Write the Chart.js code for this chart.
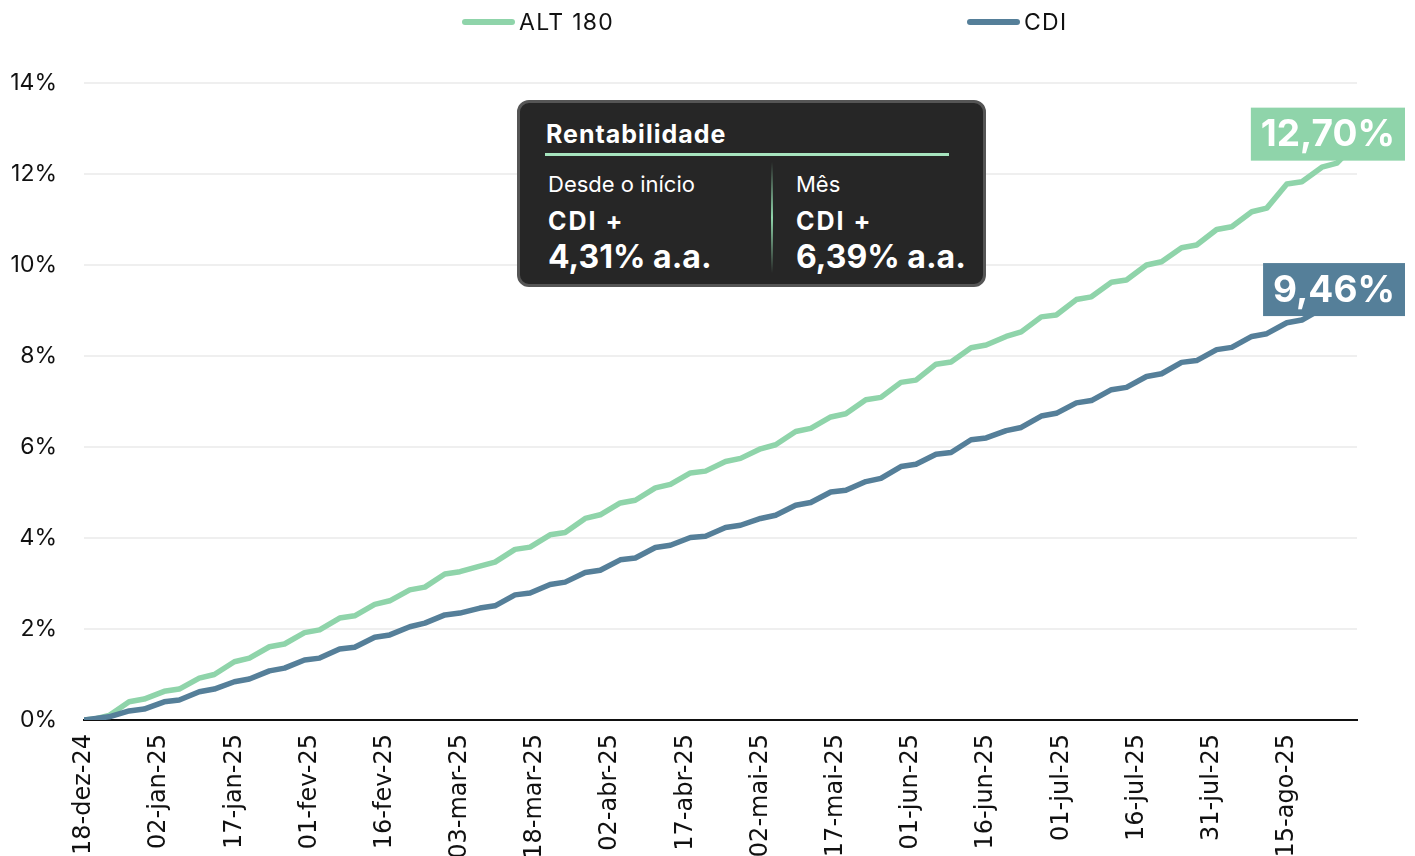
<!DOCTYPE html>
<html>
<head>
<meta charset="utf-8">
<script src="https://cdn.jsdelivr.net/npm/chart.js@4.4.1/dist/chart.umd.min.js"></script>
<style>
  html, body { margin: 0; padding: 0; background: #ffffff; overflow: hidden; }
  #wrap { position: relative; width: 1415px; height: 856px; }
  canvas { display: block; }
  #info { position: absolute; left: 517px; top: 100px; width: 469px; height: 187px; box-sizing: border-box;
          border: 3px solid #555555; border-radius: 12px; background: #262626; color: #ffffff;
          font-family: Inter, "Noto Sans", sans-serif; }
  #info .t { position: absolute; white-space: nowrap; }
  #info .title { left: 26px; top: 19px; font-size: 25px; line-height: 25px; font-weight: 700; letter-spacing: 1px; }
  #info .rule { position: absolute; left: 25px; top: 50px; width: 404px; height: 3px; background: #a6e4be; }
  #info .divider { position: absolute; left: 251px; top: 59px; width: 2px; height: 111px;
                   background: linear-gradient(to bottom, rgba(143,212,170,0), #8fd4aa 50%, rgba(143,212,170,0)); }
  #info .sub { top: 70px; font-size: 22px; line-height: 22px; font-weight: 400; }
  #info .mid { top: 106px; font-size: 25px; line-height: 25px; font-weight: 700; letter-spacing: 2px; }
  #info .big { top: 138px; font-size: 32px; line-height: 32px; font-weight: 700; }
  #info .c1 { left: 28px; }
  #info .c2 { left: 276px; }
</style>
</head>
<body>
<div id="wrap">
  <canvas id="c" width="1415" height="856"></canvas>
  <div id="info">
    <div class="t title">Rentabilidade</div>
    <div class="rule"></div>
    <div class="divider"></div>
    <div class="t sub c1">Desde o início</div>
    <div class="t mid c1">CDI +</div>
    <div class="t big c1">4,31% a.a.</div>
    <div class="t sub c2">Mês</div>
    <div class="t mid c2">CDI +</div>
    <div class="t big c2">6,39% a.a.</div>
  </div>
</div>
<script>
// ---- Data (day offsets from 18-dez-24; values in % accumulated) ----
const tickDays = [0, 15, 30, 45, 60, 75, 90, 105, 120, 135, 150, 165, 180, 195, 210, 225, 240];
const tickLabels = ['18-dez-24', '02-jan-25', '17-jan-25', '01-fev-25', '16-fev-25', '03-mar-25', '18-mar-25',
  '02-abr-25', '17-abr-25', '02-mai-25', '17-mai-25', '01-jun-25', '16-jun-25', '01-jul-25', '16-jul-25',
  '31-jul-25', '15-ago-25'];
const lastDay = 254;

const obsDays = [0, 2, 5, 9, 12, 16, 19, 23, 26, 30, 33, 37, 40, 44, 47, 51, 54, 58, 61, 65, 68, 72, 75,
  79, 82, 86, 89, 93, 96, 100, 103, 107, 110, 114, 117, 121, 124, 128, 131, 135, 138, 142, 145, 149, 152,
  156, 159, 163, 166, 170, 173, 177, 180, 184, 187, 191, 194, 198, 201, 205, 208, 212, 215, 219, 222,
  226, 229, 233, 236, 240, 243, 247, 250, 254];

const alt180 = [0, 0.02, 0.10, 0.40, 0.46, 0.63, 0.68, 0.92, 1.00, 1.28, 1.36, 1.61, 1.67, 1.92, 1.98,
  2.24, 2.29, 2.54, 2.62, 2.86, 2.92, 3.21, 3.26, 3.38, 3.47, 3.75, 3.80, 4.07, 4.12, 4.43, 4.51,
  4.77, 4.83, 5.10, 5.18, 5.43, 5.47, 5.68, 5.75, 5.96, 6.05, 6.34, 6.41, 6.66, 6.73, 7.04, 7.09,
  7.42, 7.47, 7.82, 7.87, 8.18, 8.24, 8.43, 8.53, 8.86, 8.90, 9.24, 9.30, 9.62, 9.67, 10.00, 10.07,
  10.38, 10.44, 10.78, 10.84, 11.17, 11.25, 11.78, 11.83, 12.15, 12.24, 12.70];

const cdi = [0, 0.03, 0.07, 0.20, 0.24, 0.40, 0.44, 0.62, 0.68, 0.84, 0.90, 1.08, 1.14, 1.32, 1.36,
  1.56, 1.60, 1.82, 1.87, 2.05, 2.13, 2.31, 2.35, 2.46, 2.51, 2.75, 2.79, 2.98, 3.03, 3.24, 3.29,
  3.52, 3.56, 3.79, 3.84, 4.01, 4.04, 4.23, 4.28, 4.43, 4.50, 4.72, 4.78, 5.01, 5.05, 5.24, 5.31,
  5.57, 5.62, 5.84, 5.88, 6.16, 6.20, 6.36, 6.43, 6.68, 6.74, 6.97, 7.02, 7.26, 7.31, 7.55, 7.61,
  7.86, 7.90, 8.14, 8.19, 8.43, 8.49, 8.73, 8.79, 9.04, 9.08, 9.46];

const yTicks = [0, 2, 4, 6, 8, 10, 12, 14];
const seriesNames = ['ALT 180', 'CDI'];
const seriesColors = ['#8fd4aa', '#557f99'];

// ---- Chart ----
Chart.defaults.font.family = 'Inter, "Noto Sans", sans-serif';
Chart.defaults.color = '#111111';

const fmtPct = v => v.toFixed(2).replace('.', ',') + '%';

const legendPlugin = {
  id: 'customLegend',
  afterDraw(chart) {
    const ctx = chart.ctx;
    const items = [{ x: 462 }, { x: 967 }];
    ctx.save();
    chart.data.datasets.slice().sort((a, b) => a.legendIndex - b.legendIndex).forEach((ds, i) => {
      const x0 = items[i].x, y = 22;
      ctx.strokeStyle = ds.borderColor;
      ctx.lineWidth = 6;
      ctx.lineCap = 'round';
      ctx.beginPath();
      ctx.moveTo(x0 + 3, y);
      ctx.lineTo(x0 + 50, y);
      ctx.stroke();
      ctx.fillStyle = '#111111';
      ctx.font = '400 23px Inter, "Noto Sans", sans-serif';
      if ('letterSpacing' in ctx) ctx.letterSpacing = '1.3px';
      ctx.textBaseline = 'middle';
      ctx.textAlign = 'left';
      ctx.fillText(ds.label, x0 + 57, y + 1);
      if ('letterSpacing' in ctx) ctx.letterSpacing = '0px';
    });
    ctx.restore();
  }
};

const endLabelPlugin = {
  id: 'endLabels',
  afterDatasetsDraw(chart) {
    const ctx = chart.ctx;
    const xs = chart.scales.x, ys = chart.scales.y;
    ctx.save();
    chart.data.datasets.forEach(ds => {
      const last = ds.data[ds.data.length - 1];
      const px = xs.getPixelForValue(last.x);
      const py = ys.getPixelForValue(last.y) + (ds.labelShift || 0);
      const txt = fmtPct(last.y);
      ctx.font = '700 37px Inter, "Noto Sans", sans-serif';
      const w = ctx.measureText(txt).width + 20;
      const h = 53;
      const right = px + 48;
      ctx.fillStyle = ds.borderColor;
      ctx.fillRect(right - w, py - h / 2, w, h);
      ctx.fillStyle = '#ffffff';
      ctx.textAlign = 'center';
      ctx.textBaseline = 'middle';
      ctx.fillText(txt, right - w / 2, py + 1);
    });
    ctx.restore();
  }
};

new Chart(document.getElementById('c'), {
  type: 'line',
  data: {
    datasets: [
      {
        label: seriesNames[1], legendIndex: 1, labelShift: 0,
        data: obsDays.map((d, i) => ({ x: d, y: cdi[i] })),
        borderColor: seriesColors[1], backgroundColor: seriesColors[1],
        borderWidth: 5.5, pointRadius: 0, tension: 0, borderJoinStyle: 'round', borderCapStyle: 'round'
      },
      {
        label: seriesNames[0], legendIndex: 0, labelShift: -8,
        data: obsDays.map((d, i) => ({ x: d, y: alt180[i] })),
        borderColor: seriesColors[0], backgroundColor: seriesColors[0],
        borderWidth: 5.5, pointRadius: 0, tension: 0, borderJoinStyle: 'round', borderCapStyle: 'round'
      }
    ]
  },
  options: {
    responsive: false,
    animation: false,
    devicePixelRatio: 1,
    layout: { padding: { top: 83, right: 58, left: 0, bottom: 0 } },
    plugins: { legend: { display: false }, tooltip: { enabled: false } },
    scales: {
      x: {
        type: 'linear', min: 0, max: lastDay,
        afterBuildTicks: s => { s.ticks = tickDays.map(v => ({ value: v })); },
        afterFit: s => { s.height = 136; },
        ticks: {
          autoSkip: false, minRotation: 90, maxRotation: 90, padding: 14,
          font: { size: 24, family: '"DejaVu Sans", Inter, sans-serif' }, color: '#111111',
          callback: v => tickLabels[tickDays.indexOf(v)]
        },
        grid: { display: false, drawTicks: false },
        border: { display: true, color: '#111111', width: 2 }
      },
      y: {
        min: 0, max: 14,
        afterBuildTicks: s => { s.ticks = yTicks.map(v => ({ value: v })); },
        afterFit: s => { s.width = 84; },
        ticks: { padding: 27, font: { size: 23 }, color: '#111111', callback: v => v + '%' },
        grid: {
          drawTicks: false, lineWidth: 2,
          color: c => (c.tick && c.tick.value === 0) ? 'rgba(0,0,0,0)' : '#efefef'
        },
        border: { display: false }
      }
    }
  },
  plugins: [legendPlugin, endLabelPlugin]
});
</script>
</body>
</html>
